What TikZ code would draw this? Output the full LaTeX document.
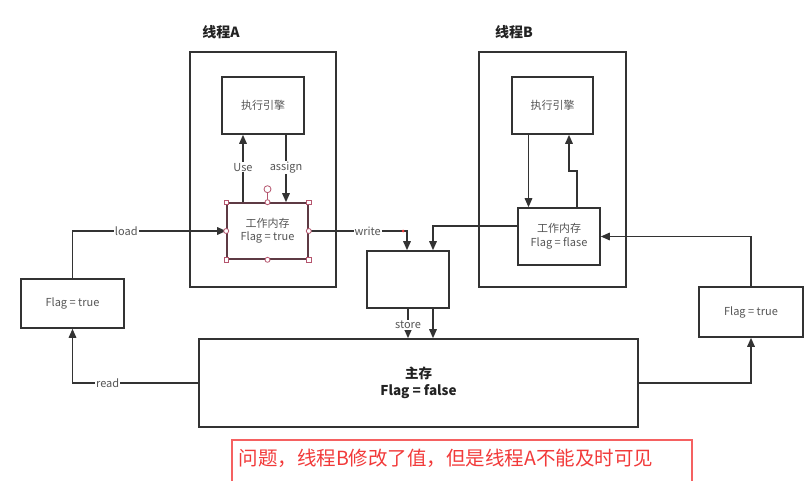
\documentclass[tikz,border=0pt]{standalone}
\usepackage{fontspec}
\setmainfont{Noto Sans CJK SC}
\usetikzlibrary{arrows.meta}
\definecolor{ln}{HTML}{333333}
\definecolor{tx}{HTML}{555555}
\definecolor{hd}{HTML}{222222}
\definecolor{sel}{HTML}{B5556E}
\definecolor{selb}{HTML}{5E3A44}
\definecolor{rd}{HTML}{F23A3A}
\tikzset{
  x=1pt, y=-1pt,
  box/.style={draw=ln, line width=1.6pt, fill=white, inner sep=0pt, align=center, text=tx, font=\fontsize{11}{13.5}\selectfont},
  frame/.style={draw=ln, line width=1.6pt},
  conn/.style={draw=ln, line width=1.6pt},
  arr/.style={conn, -{Triangle[length=9pt,width=7.5pt]}},
  lbl/.style={fill=white, inner sep=1pt, text=tx, font=\fontsize{11}{12}\selectfont},
  ttl/.style={text=hd, font=\fontsize{14}{16}\selectfont\bfseries},
  hsq/.style={draw=sel, fill=white, line width=0.8pt, minimum size=4.5pt, inner sep=0pt},
  hci/.style={draw=sel, fill=white, line width=0.8pt, circle, minimum size=5pt, inner sep=0pt},
}
\begin{document}
\begin{tikzpicture}
\useasboundingbox (0,0) rectangle (808,481);
\fill[white] (0,0) rectangle (808,481);

% thread frames
\node[frame, minimum width=146pt, minimum height=235pt] (tA) at (263,169.5) {};
\node[frame, minimum width=147pt, minimum height=235pt] (tB) at (552.5,169.5) {};
\node[ttl] (tAt) at (221,32) {线程A};
\node[ttl] (tBt) at (514,32) {线程B};

% engines
\node[box, minimum width=82pt, minimum height=57pt] (eA) at (263,105.5) {执行引擎};
\node[box, minimum width=81pt, minimum height=57pt] (eB) at (552.5,105.5) {执行引擎};

% working memories
\node[box, draw=selb, minimum width=81pt, minimum height=56pt] (wA) at (267.5,231) {工作内存\\Flag = true};
\node[box, minimum width=82pt, minimum height=57pt] (wB) at (559,236.5) {工作内存\\Flag = flase};

% buffer box
\node[box, minimum width=82pt, minimum height=57pt] (buf) at (408,279.5) {};

% main memory
\node[box, minimum width=439pt, minimum height=88pt, text=hd, font=\fontsize{13.5}{16.5}\selectfont\bfseries] (mm) at (418.5,383) {主存\\Flag = false};

% side flag boxes
\node[box, minimum width=103pt, minimum height=49pt] (lf) at (72.5,303.5) {Flag = true};
\node[box, minimum width=104pt, minimum height=50pt] (rf) at (751,312) {Flag = true};

% connectors thread A
\draw[arr] ([xshift=-24.5pt]wA.north) -- ([xshift=-20pt]eA.south) node[lbl, pos=0.52] {Use};
\draw[arr] ([xshift=23pt]eA.south) -- ([xshift=18.5pt]wA.north) node[lbl, pos=0.48] {assign};
\draw[arr] (lf.north) |- (wA.west) node[lbl, pos=0.675] {load};
\draw[arr] (mm.west) -| (lf.south) node[lbl, pos=0.36] {read};
\draw[arr] (wA.east) -| ([xshift=-1pt]buf.north) node[lbl, pos=0.3] {write};
\fill[rd] (403,231) circle (1.5pt);

% buffer to main
\draw[arr] (buf.south) -- (buf.south |- mm.north) node[lbl, pos=0.55] {store};
\draw[arr] ([xshift=25pt]buf.south) -- ([xshift=25pt]buf.south |- mm.north);

% thread B
\draw[arr] ([xshift=-24pt]eB.south) -- ([xshift=-24pt]eB.south |- wB.north);
\draw[arr] ([xshift=18pt]wB.north) -- ++(0,-36) -| ([xshift=16.5pt]eB.south);
\draw[arr] ([yshift=10.5pt]wB.west) -| ([xshift=25pt]buf.north);
\draw[arr] (mm.east) -| (rf.south);
\draw[arr] (rf.north) |- (wB.east);

% selection handles on working memory A
\draw[sel, line width=0.8pt] (wA.north) -- ++(0,-13) coordinate (rot);
\node[hci, minimum size=7pt] (rh) at (rot) {};
\node[hsq] (h1) at (wA.north west) {};
\node[hsq] (h2) at (wA.north east) {};
\node[hsq] (h3) at (wA.south west) {};
\node[hsq] (h4) at (wA.south east) {};
\node[hci] (h5) at (wA.north) {};
\node[hci] (h6) at (wA.south) {};
\node[hci] (h7) at (wA.west) {};
\node[hci] (h8) at (wA.east) {};

% note
\draw[rd!80, line width=1.3pt] (232,490) |- (692,440) -- (692,490);
\node[text=rd, font=\fontsize{19.5}{21}\selectfont, anchor=west] (note) at (235,458) {问题，线程B修改了值，但是线程A不能及时可见};
\end{tikzpicture}
\end{document}
